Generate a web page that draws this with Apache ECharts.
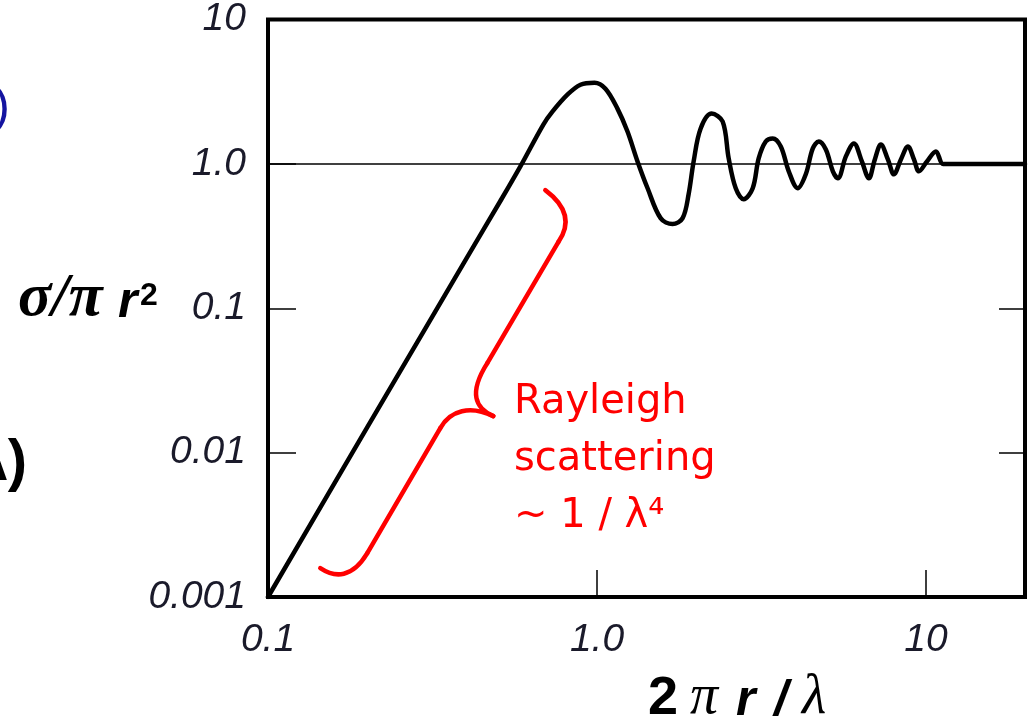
<!DOCTYPE html>
<html>
<head>
<meta charset="utf-8">
<script src="https://cdn.jsdelivr.net/npm/echarts@6/dist/echarts.min.js"></script>
<style>
html,body{margin:0;padding:0;background:#fff;}
#main{width:1031px;height:716px;}
</style>
</head>
<body>
<div id="main"></div>
<script>
// size parameter 2*pi*r/lambda
const sizeParam = [0.1, 0.2, 0.3, 0.4, 0.508, 0.585, 0.687, 0.732, 0.813, 0.891, 0.983, 1.061, 1.154, 1.238, 1.328, 1.425, 1.561, 1.697, 1.821, 1.899, 1.967, 2.066, 2.232, 2.410, 2.514, 2.641, 2.793, 2.974, 3.101, 3.258, 3.422, 3.620, 3.828, 4.077, 4.312, 4.529, 4.724, 4.962, 5.212, 5.398, 5.709, 6.037, 6.385, 6.705, 6.992, 7.294, 7.660, 7.989, 8.391, 8.813, 9.194, 9.521, 10.07, 10.72, 11.27, 12, 20];
// normalized cross-section sigma / (pi r^2)
const crossSection = [0.001, 0.0149, 0.0718, 0.219, 0.551, 0.961, 1.873, 2.30, 3.015, 3.534, 3.648, 3.317, 2.414, 1.675, 1.040, 0.678, 0.421, 0.383, 0.421, 0.616, 1.040, 1.758, 2.229, 1.964, 1.091, 0.678, 0.569, 0.678, 1.091, 1.429, 1.500, 1.320, 0.888, 0.678, 0.847, 1.279, 1.429, 1.259, 0.888, 0.794, 1.126, 1.385, 1.040, 0.794, 1.074, 1.363, 1.074, 0.847, 1.074, 1.320, 1.074, 0.888, 1.040, 1.219, 1.00, 1.00, 1.00];

const xTickValues = [0.1, 1, 10];
const xTickLabels = ['0.1', '1.0', '10'];
const yTickValues = [0.001, 0.01, 0.1, 1, 10];
const yTickLabels = ['0.001', '0.01', '0.1', '1.0', '10'];
const referenceLevel = 1;
// cusp of the Rayleigh brace, in data coordinates
const braceAnchor = [0.484, 0.0179];

function pickLabel(v, vals, labs) {
  for (let i = 0; i < vals.length; i++) {
    if (Math.abs(Math.log10(v) - Math.log10(vals[i])) < 1e-6) return labs[i];
  }
  return '';
}

const tickFont = {fontFamily: '"Liberation Sans", Arial, sans-serif', fontStyle: 'italic', fontSize: 39, color: '#1a1a2a'};

const chart = echarts.init(document.getElementById('main'), null, {renderer: 'canvas'});
const option = {
  animation: false,
  backgroundColor: '#ffffff',
  grid: {left: 268, top: 17, right: 6, bottom: 119, show: true, borderColor: '#000', borderWidth: 4, backgroundColor: 'transparent'},
  xAxis: {
    type: 'log', logBase: 10, min: 0.1, max: 20,
    axisLine: {show: false},
    splitLine: {show: false},
    axisTick: {show: true, inside: true, length: 27, lineStyle: {color: '#000', width: 1.5}},
    axisLabel: Object.assign({margin: 24, formatter: v => pickLabel(v, xTickValues, xTickLabels)}, tickFont)
  },
  yAxis: [{
    type: 'log', logBase: 10, min: 0.001, max: 10, position: 'left',
    axisLine: {show: false},
    splitLine: {show: false},
    axisTick: {show: true, inside: true, length: 28, lineStyle: {color: '#000', width: 1.5}},
    axisLabel: Object.assign({margin: 22, formatter: v => pickLabel(v, yTickValues, yTickLabels)}, tickFont)
  }, {
    type: 'log', logBase: 10, min: 0.001, max: 10, position: 'right',
    axisLine: {show: false},
    splitLine: {show: false},
    axisTick: {show: true, inside: true, length: 26, lineStyle: {color: '#000', width: 1.5}},
    axisLabel: {show: false}
  }],
  series: [{
    type: 'line',
    data: sizeParam.map((x, i) => [x, crossSection[i]]),
    smooth: 0.35,
    symbol: 'none',
    lineStyle: {color: '#000', width: 4.5, cap: 'round', join: 'round'},
    z: 5,
    markLine: {
      silent: true, symbol: 'none', animation: false,
      label: {show: false},
      lineStyle: {color: '#000', width: 1.5, type: 'solid'},
      data: [{yAxis: referenceLevel}]
    }
  }]
};
chart.setOption(option);

const cusp = chart.convertToPixel({gridIndex: 0}, braceAnchor);
const braceStyle = {stroke: '#ff0000', lineWidth: 4.5, fill: null, lineCap: 'round', lineJoin: 'round'};
function bz(a, b, c, d) {
  return {type: 'bezierCurve', shape: {x1: a[0], y1: a[1], cpx1: b[0], cpy1: b[1], cpx2: c[0], cpy2: c[1], x2: d[0], y2: d[1]}, style: braceStyle};
}
function ln(a, b) {
  return {type: 'line', shape: {x1: a[0], y1: a[1], x2: b[0], y2: b[1]}, style: braceStyle};
}
function txt(x, y, s, font, extra) {
  return {type: 'text', x: x, y: y, z: 10, style: Object.assign({text: s, font: font, fill: '#000', textAlign: 'left', textVerticalAlign: 'bottom'}, extra || {})};
}
const serifIt = 'italic bold 62px "Liberation Serif", "DejaVu Serif", serif';
const serifItN = 'italic 56px "Liberation Serif", "DejaVu Serif", serif';
const sansBI = 'italic bold 50px "Liberation Sans", Arial, sans-serif';

chart.setOption({
  graphic: [
    {type: 'group', x: cusp[0], y: cusp[1], z: 10, children: [
      bz([52, -226], [72, -211], [79, -194], [65, -174]),
      ln([65, -174], [-6, -53]),
      bz([-6, -53], [-25, -23], [-18, -8], [0, 0]),
      bz([0, 0], [-23, -11], [-43, -6], [-53, 12]),
      ln([-53, 12], [-126, 137]),
      bz([-126, 137], [-141, 162], [-158, 162], [-173, 152])
    ]},
    {type: 'text', x: 514, y: 374, z: 10, style: {text: 'Rayleigh\nscattering\n~ 1 / λ⁴', fill: '#ff0000', font: '40px "DejaVu Sans", Verdana, sans-serif', lineHeight: 57, textAlign: 'left', textVerticalAlign: 'top'}},
    // y-axis title  σ/π r²
    txt(18, 330, 'σ/π', serifIt),
    txt(118, 328, 'r', sansBI),
    txt(140, 312, '2', 'bold 32px "Liberation Sans", Arial, sans-serif'),
    // x-axis title  2 π r / λ
    txt(648, 726, '2', 'bold 54px "Liberation Sans", Arial, sans-serif'),
    txt(690, 726, 'π', serifItN),
    txt(736, 726, 'r', sansBI),
    txt(774, 726, '/', sansBI),
    txt(802, 726, 'λ', serifItN),
    {type: 'text', x: 10, y: 108, style: {text: ')', fill: '#1414a0', font: '50px "Liberation Sans", Arial, sans-serif', textAlign: 'right', textVerticalAlign: 'middle'}},
    {type: 'text', x: 27, y: 464, style: {text: 'λ)', fill: '#000', font: 'bold 58px "Liberation Sans", Arial, sans-serif', textAlign: 'right', textVerticalAlign: 'middle'}}
  ]
});
</script>
</body>
</html>
